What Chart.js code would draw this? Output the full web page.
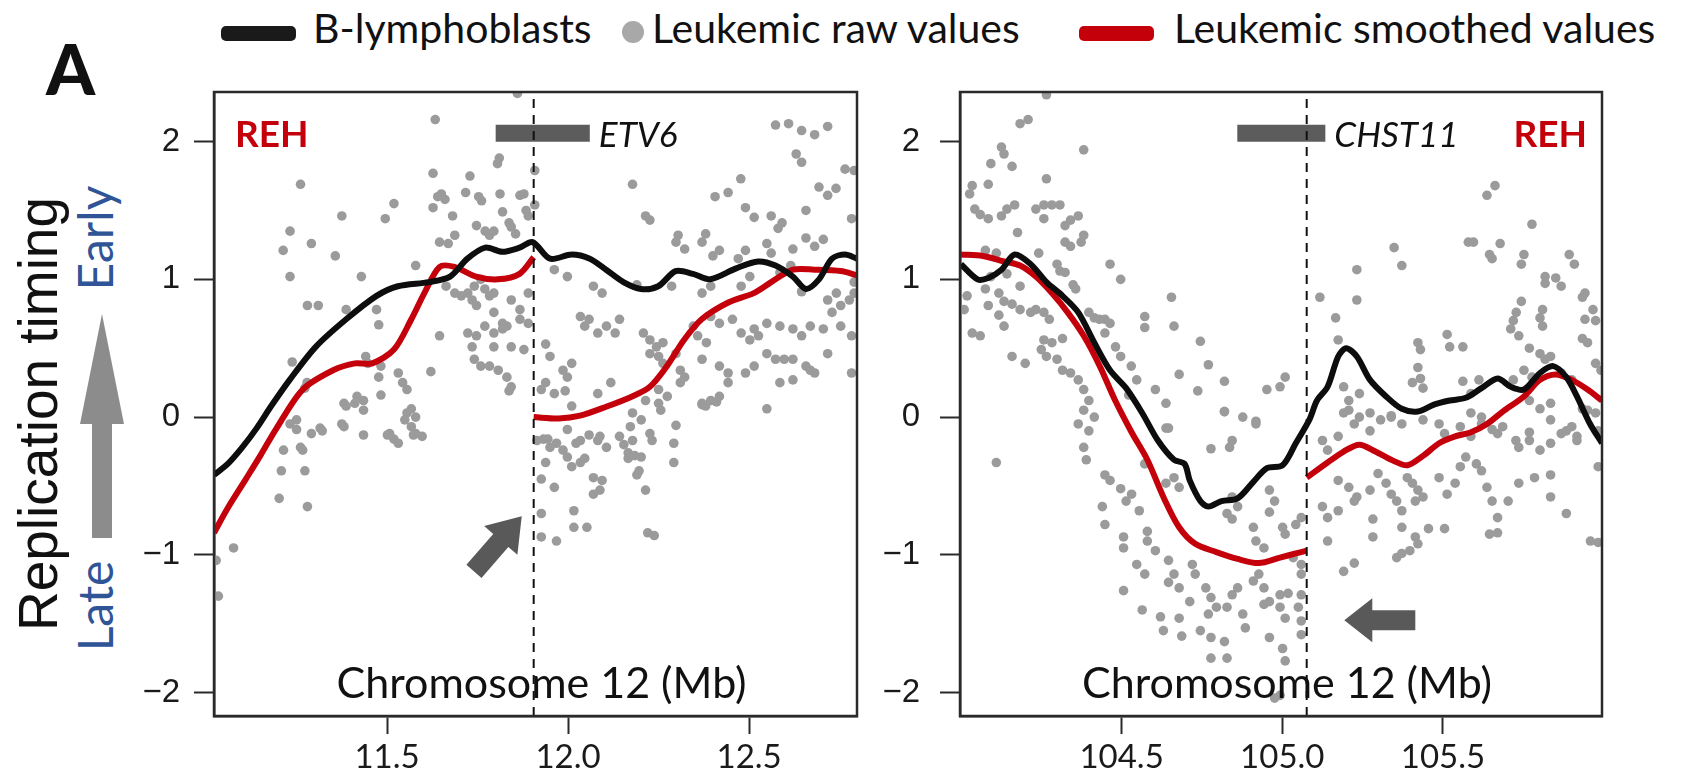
<!DOCTYPE html>
<html>
<head>
<meta charset="utf-8">
<script src="https://cdn.jsdelivr.net/npm/chart.js@4.4.1/dist/chart.umd.min.js"></script>
<style>
  html, body { margin:0; padding:0; background:#fff; }
  body { width:1691px; height:775px; position:relative; overflow:hidden; font-family: Lato, sans-serif; color:#111; }
  .abs { position:absolute; white-space:nowrap; line-height:1; }
  .leg { font-size:41px; top:7px; }
  .sw { position:absolute; top:26px; width:75px; height:15px; border-radius:5px; }
  .rot { position:absolute; width:0; height:0; }
  .rot span { position:absolute; white-space:nowrap; transform: translate(-50%,-50%) rotate(-90deg); }
  #bigArrow { position:absolute; left:80px; top:314px; width:44px; height:224px; background:#8c8c8c;
    clip-path: polygon(22px 0, 44px 110px, 32px 110px, 32px 224px, 12px 224px, 12px 110px, 0 110px); }
  canvas { position:absolute; }
</style>
</head>
<body>

<div class="sw" style="left:221px;background:#1a1a1a"></div>
<span class="abs leg" style="left:313px">B-lymphoblasts</span>
<div style="position:absolute;left:622px;top:21px;width:22px;height:22px;border-radius:50%;background:#a8a8a8"></div>
<span class="abs leg" style="left:652px">Leukemic raw values</span>
<div class="sw" style="left:1079px;background:#c4000b"></div>
<span class="abs leg" style="left:1174px">Leukemic smoothed values</span>

<span class="abs" style="left:46px;top:33px;font-size:70px;font-weight:900">A</span>

<div class="rot" style="left:38px;top:414px"><span style="font-family:'Liberation Sans',Arial;font-size:55px;color:#111">Replication timing</span></div>
<div class="rot" style="left:94px;top:238px"><span style="font-size:48px;color:#2f5597">Early</span></div>
<div class="rot" style="left:94px;top:606px"><span style="font-size:48px;color:#2f5597">Late</span></div>
<div id="bigArrow"></div>

<canvas id="chartL" width="740" height="695" style="left:130px;top:80px"></canvas>
<canvas id="chartR" width="740" height="695" style="left:880px;top:80px"></canvas>

<script>
// axis setup
const yRange = [-2.17, 2.36];
const yTicks = [-2, -1, 0, 1, 2];
const xRangeL = [11.022, 12.798];
const xTicksL = [11.5, 12.0, 12.5];
const xRangeR = [103.997, 105.995];
const xTicksR = [104.5, 105.0, 105.5];

// genes: bar start/end (Mb), breakpoint marker
const geneL = { name:'ETV6', start:11.80, end:12.06, mark:11.905 };
const geneR = { name:'CHST11', start:104.86, end:105.134, mark:105.076 };
const geneBarY = 2.06;

// B-lymphoblasts smoothed (black)
const blackL = [[11.022,-0.42],[11.06,-0.34],[11.10,-0.22],[11.14,-0.08],[11.18,0.08],[11.231,0.27],[11.303,0.51],[11.387,0.71],[11.471,0.88],[11.53,0.95],[11.615,0.98],[11.674,1.02],[11.722,1.15],[11.771,1.23],[11.818,1.20],[11.866,1.23],[11.902,1.27],[11.95,1.15],[12.01,1.18],[12.06,1.15],[12.105,1.07],[12.153,0.98],[12.201,0.93],[12.249,0.95],[12.297,1.06],[12.345,1.04],[12.392,1.00],[12.464,1.08],[12.525,1.13],[12.573,1.10],[12.621,1.02],[12.657,0.93],[12.693,1.00],[12.729,1.15],[12.765,1.18],[12.798,1.15]];
const blackR = [[104.0,1.11],[104.052,1.00],[104.085,1.01],[104.126,1.07],[104.167,1.18],[104.217,1.11],[104.266,0.98],[104.316,0.88],[104.365,0.76],[104.415,0.54],[104.464,0.34],[104.514,0.21],[104.564,0.03],[104.613,-0.17],[104.663,-0.31],[104.696,-0.34],[104.712,-0.46],[104.745,-0.61],[104.77,-0.65],[104.811,-0.61],[104.861,-0.59],[104.91,-0.47],[104.952,-0.37],[105.001,-0.35],[105.042,-0.19],[105.084,-0.02],[105.108,0.12],[105.141,0.22],[105.174,0.44],[105.199,0.50],[105.232,0.44],[105.273,0.27],[105.323,0.15],[105.372,0.06],[105.422,0.04],[105.472,0.09],[105.521,0.12],[105.571,0.14],[105.62,0.21],[105.67,0.28],[105.711,0.22],[105.752,0.20],[105.802,0.32],[105.843,0.37],[105.884,0.29],[105.917,0.15],[105.958,-0.05],[105.995,-0.19]];

// leukemic smoothed (red), split at the breakpoint
const redL1 = [[11.022,-0.84],[11.06,-0.66],[11.11,-0.45],[11.15,-0.28],[11.195,-0.08],[11.267,0.20],[11.351,0.34],[11.411,0.39],[11.459,0.39],[11.519,0.49],[11.567,0.71],[11.603,0.90],[11.645,1.09],[11.686,1.09],[11.746,1.02],[11.806,1.00],[11.866,1.04],[11.905,1.16]];
const redL2 = [[11.905,0.0],[11.974,-0.01],[12.033,0.01],[12.105,0.075],[12.177,0.15],[12.226,0.22],[12.273,0.37],[12.32,0.56],[12.369,0.71],[12.441,0.83],[12.513,0.90],[12.561,0.98],[12.621,1.07],[12.681,1.07],[12.753,1.06],[12.798,1.03]];
const redR1 = [[104.0,1.18],[104.068,1.17],[104.134,1.13],[104.184,1.10],[104.233,1.02],[104.283,0.90],[104.332,0.76],[104.382,0.59],[104.432,0.37],[104.48,0.12],[104.531,-0.11],[104.58,-0.31],[104.63,-0.58],[104.679,-0.80],[104.729,-0.92],[104.795,-0.98],[104.861,-1.03],[104.927,-1.06],[104.993,-1.02],[105.042,-0.99],[105.076,-0.97]];
const redR2 = [[105.076,-0.44],[105.141,-0.33],[105.191,-0.25],[105.24,-0.20],[105.29,-0.25],[105.339,-0.31],[105.389,-0.35],[105.439,-0.28],[105.488,-0.19],[105.538,-0.14],[105.587,-0.11],[105.637,-0.05],[105.686,0.04],[105.752,0.15],[105.802,0.27],[105.851,0.31],[105.901,0.27],[105.95,0.20],[105.995,0.12]];

// leukemic raw values (grey dots)
const rawL = [[11.86,2.35],[11.633,2.16],[12.573,2.12],[12.609,2.13],[12.645,2.08],[12.681,2.05],[12.717,2.11],
[11.81,1.88],[11.805,1.84],[11.908,1.79],[12.63,1.91],[12.645,1.85],[12.79,1.79],[12.765,1.80],[12.477,1.73],[12.178,1.69],[12.74,1.66],[11.261,1.69],[11.627,1.77],[11.729,1.75],
[11.65,1.62],[11.64,1.60],[11.66,1.58],[11.717,1.63],[11.753,1.60],[11.761,1.57],[11.812,1.62],[11.867,1.61],[11.878,1.62],[11.908,1.54],[11.884,1.50],[11.89,1.46],[11.519,1.55],[11.375,1.46],[11.495,1.44],[11.627,1.52],[11.681,1.46],
[11.747,1.39],[11.771,1.35],[11.783,1.32],[11.795,1.35],[11.819,1.49],[11.837,1.41],[11.843,1.38],[11.855,1.33],[11.232,1.35],[11.291,1.26],[11.213,1.21],[11.357,1.17],[11.645,1.27],[11.669,1.26],[11.687,1.32],[11.579,1.10],[11.232,1.02],[11.429,1.02],
[12.214,1.46],[12.226,1.43],[12.304,1.32],[12.298,1.27],[12.322,1.22],[12.38,1.33],[12.406,1.60],[12.442,1.63],[12.49,1.52],[12.514,1.45],[12.561,1.46],[12.591,1.41],[12.58,1.37],[12.657,1.50],[12.717,1.61],[12.693,1.67],[12.783,1.44],
[12.37,1.27],[12.418,1.21],[12.4,1.17],[12.49,1.21],[12.47,1.15],[12.549,1.26],[12.561,1.19],[12.621,1.22],[12.657,1.30],[12.705,1.29],[12.681,1.24],[12.615,1.10],[12.585,1.05],
[11.962,1.07],[11.998,1.02],[12.07,0.95],[12.094,0.90],[12.19,0.96],[12.286,0.95],[12.37,0.90],[12.394,0.95],[12.502,1.02],[12.478,0.95],[12.79,0.98],[12.79,0.90],[12.741,0.90],[12.717,0.85],[12.645,0.91],
[11.663,0.95],[11.687,0.90],[11.705,0.88],[11.723,0.90],[11.741,0.95],[11.759,1.00],[11.77,0.93],[11.783,0.88],[11.795,0.90],[11.735,0.85],[11.747,0.81],[11.843,0.85],[11.867,0.78],[11.89,0.90],
[11.28,0.81],[11.31,0.81],[11.387,0.78],[11.471,0.78],[11.795,0.76],[11.819,0.68],[11.831,0.66],[11.867,0.71],[11.89,0.68],[11.723,0.61],[11.747,0.59],[11.77,0.66],[11.795,0.61],[11.819,0.64],[11.843,0.51],[11.878,0.49],[11.735,0.51],[11.795,0.51],[11.477,0.67],[11.645,0.59],
[11.741,0.42],[11.759,0.37],[11.783,0.37],[11.807,0.34],[11.831,0.29],[11.843,0.22],[11.837,0.19],[11.621,0.33],[11.531,0.32],[11.483,0.37],[11.477,0.29],[11.238,0.40],[11.441,0.44],[11.447,0.39],[11.543,0.25],[11.555,0.20],[11.381,0.10],[11.417,0.15],[11.435,0.12],[11.411,0.10],[11.483,0.16],[11.279,0.25],[11.273,0.21],[11.567,0.06],[11.555,0.03],[11.579,0.00],
[11.232,-0.05],[11.25,-0.09],[11.214,-0.24],[11.208,-0.39],[11.273,-0.39],[11.315,-0.08],[11.375,-0.05],[11.381,-0.07],[11.435,-0.13],[11.507,-0.12],[11.519,-0.16],[11.531,-0.19],[11.567,-0.07],[11.579,-0.12],[11.597,-0.14],
[11.938,0.53],[11.95,0.44],[11.938,0.25],[11.926,0.20],[11.986,0.34],[12.01,0.39],[11.998,0.29],[12.034,0.73],[12.058,0.71],[12.046,0.66],[12.106,0.66],[12.13,0.61],[12.082,0.61],[12.142,0.71],[11.962,0.17],[11.992,0.19],[12.01,0.08],[12.082,0.17],[12.118,0.25],
[12.208,0.61],[12.226,0.56],[12.244,0.51],[12.262,0.54],[12.226,0.46],[12.25,0.44],[12.262,0.39],[12.31,0.34],[12.322,0.29],[12.31,0.25],[12.298,0.46],[12.214,0.12],[12.178,0.03],[12.25,0.20],[12.274,0.15],
[12.346,0.66],[12.358,0.59],[12.382,0.54],[12.394,0.73],[12.418,0.68],[12.454,0.71],[12.478,0.61],[12.502,0.56],[12.514,0.64],[12.526,0.59],[12.549,0.68],[12.585,0.66],[12.621,0.64],[12.645,0.59],[12.669,0.66],[12.705,0.64],[12.753,0.66],[12.783,0.59],
[12.37,0.42],[12.418,0.37],[12.442,0.32],[12.49,0.32],[12.514,0.37],[12.549,0.46],[12.573,0.42],[12.597,0.42],[12.621,0.42],[12.657,0.37],[12.681,0.32],[12.669,0.34],[12.717,0.46],[12.783,0.32],[12.585,0.25],[12.621,0.27],[12.442,0.25],[12.37,0.10],[12.394,0.12],[12.418,0.15],[12.549,0.06],[12.753,0.81],[12.729,0.76],[12.777,0.85],
[11.25,-0.02],[11.261,-0.22],[11.267,-0.24],[11.291,-0.12],[11.321,-0.10],[11.387,0.08],[11.435,0.05],[11.501,-0.13],[11.549,-0.02],[11.573,-0.13],[11.202,-0.59],[11.28,-0.65],[11.076,-0.95],[11.028,-1.04],[11.034,-1.30],
[11.914,-0.17],[11.932,-0.16],[11.95,-0.22],[11.968,-0.19],[11.986,-0.24],[11.998,-0.29],[12.022,-0.19],[12.058,-0.13],[12.088,-0.14],[11.938,-0.33],[11.926,-0.45],[11.962,-0.51],[12.01,-0.36],[12.034,-0.33],[12.046,-0.30],[12.07,-0.44],[12.094,-0.46],[12.07,-0.56],[12.088,-0.53],[11.926,-0.70],[12.016,-0.68],[11.926,-0.87],[11.968,-0.90],[12.016,-0.80],[12.052,-0.80],
[12.166,-0.30],[12.184,-0.28],[12.202,-0.29],[12.196,-0.39],[12.19,-0.42],[12.172,-0.07],[12.202,-0.02],[12.226,-0.12],[12.232,-0.17],[12.214,-0.53],[12.25,0.10],[12.256,0.05],[12.298,-0.06],[12.292,-0.19],[12.292,-0.33],[12.22,-0.84],[12.238,-0.86],[12.37,0.09],[12.38,0.08],[12.41,0.11],[12.142,-0.14],[12.154,-0.20],
[11.944,-0.16],[11.998,-0.09],[12.034,-0.17],[12.082,-0.17],[12.106,-0.22],[12.166,-0.26],[12.178,-0.17]];

const rawR = [[104.266,2.34],[104.184,2.13],[104.209,2.16],[104.382,1.94],[104.126,1.96],[104.134,1.91],[104.093,1.84],[104.159,1.82],
[104.035,1.68],[104.027,1.62],[104.085,1.69],[104.266,1.73],[104.043,1.51],[104.06,1.47],[104.085,1.44],[104.126,1.46],[104.143,1.51],[104.167,1.54],
[104.233,1.51],[104.258,1.54],[104.283,1.54],[104.308,1.54],[104.258,1.44],[104.324,1.39],[104.341,1.43],[104.365,1.46],[104.382,1.32],[104.374,1.27],[104.324,1.27],[104.341,1.24],
[104.176,1.34],[104.076,1.21],[104.11,1.19],[104.242,1.19],[104.299,1.11],[104.308,1.06],[104.324,1.05],[104.093,1.02],[104.143,1.04],[104.184,0.95],[104.076,0.93],[104.118,0.90],
[104.019,0.88],[104.01,0.78],[104.085,0.81],[104.134,0.84],[104.159,0.82],[104.184,0.78],[104.217,0.76],[104.233,0.78],[104.258,0.76],[104.275,0.71],[104.118,0.74],[104.134,0.66],[104.035,0.61],[104.06,0.59],
[104.357,0.93],[104.349,0.96],[104.464,1.11],[104.497,1.00],[104.398,0.76],[104.415,0.72],[104.448,0.71],[104.464,0.68],[104.572,0.73],[104.572,0.65],[104.655,0.87],[104.663,0.66],
[104.258,0.56],[104.283,0.54],[104.316,0.57],[104.25,0.49],[104.266,0.44],[104.299,0.42],[104.159,0.44],[104.2,0.39],[104.316,0.34],[104.341,0.32],[104.365,0.27],
[104.382,0.20],[104.398,0.12],[104.382,0.05],[104.415,0.00],[104.431,0.71],[104.448,0.61],[104.481,0.51],[104.497,0.44],[104.53,0.37],[104.547,0.27],[104.522,0.16],
[104.605,0.20],[104.638,0.10],[104.679,0.31],[104.737,0.19],[104.77,0.38],[104.745,0.55],[104.82,0.26],[104.82,0.04],[104.638,-0.08],[104.877,0.00],[104.918,-0.03],
[104.952,0.20],[104.993,0.22],[105.009,0.29],[104.39,-0.31],[104.382,-0.22],[104.11,-0.33],
[105.117,0.87],[105.232,0.85],[105.232,1.07],[105.166,0.72],[105.174,0.56],[105.348,1.23],[105.372,1.10],[105.579,1.27],[105.595,1.27],[105.645,1.18],[105.653,1.15],[105.678,1.26],
[105.637,1.61],[105.662,1.68],[105.777,1.40],[105.752,1.18],[105.744,1.11],[105.893,1.18],[105.909,1.11],[105.818,1.02],[105.851,1.01],[105.818,0.97],[105.868,0.95],[105.942,0.90],[105.934,0.87],
[105.744,0.84],[105.728,0.76],[105.719,0.70],[105.711,0.64],[105.81,0.78],[105.802,0.72],[105.81,0.66],[105.967,0.78],[105.975,0.70],[105.942,0.71],[105.934,0.57],[105.95,0.54],[105.975,0.39],[105.992,0.34],
[105.513,0.60],[105.562,0.51],[105.521,0.51],[105.422,0.54],[105.43,0.49],[105.422,0.36],[105.43,0.28],[105.405,0.25],[105.438,0.21],[105.562,0.26],[105.587,0.17],[105.612,0.27],
[105.736,0.59],[105.769,0.50],[105.802,0.46],[105.818,0.42],[105.835,0.44],[105.719,0.27],[105.752,0.34],[105.777,0.29],[105.868,0.32],[105.901,0.27],[105.769,0.12],[105.802,0.06],[105.835,0.10],[105.934,0.06],[105.975,0.03],
[105.191,0.22],[105.207,0.12],[105.24,0.17],[105.191,0.03],[105.224,-0.05],[105.273,0.03],[105.306,-0.02],[105.339,0.00],[105.372,-0.05],[105.438,-0.02],
[105.488,-0.05],[105.505,-0.12],[105.554,-0.07],[105.587,-0.14],[105.62,0.00],[105.653,-0.09],[105.686,-0.07],[105.727,-0.17],[105.769,-0.11],[105.835,-0.02],[105.868,-0.12],[105.901,-0.07],[105.917,-0.17],
[105.125,-0.17],[105.174,-0.14],[105.141,-0.24],
[104.365,-0.05],[104.398,-0.10],[104.448,-0.42],[104.464,-0.46],[104.497,-0.52],[104.44,-0.65],[104.448,-0.78],[104.514,-0.61],[104.531,-0.56],[104.555,-0.68],[104.506,-0.87],[104.506,-0.95],
[104.58,-0.83],[104.58,-0.90],[104.605,-0.97],[104.547,-1.07],[104.572,-1.14],[104.506,-1.26],[104.646,-1.04],[104.663,-1.14],[104.646,-1.20],[104.679,-1.24],[104.564,-1.40],
[104.621,-1.45],[104.63,-1.55],[104.679,-1.46],[104.687,-1.59],[104.712,-1.34],[104.729,-1.14],[104.72,-1.07],[104.762,-1.24],[104.778,-1.31],[104.795,-1.38],[104.77,-1.43],
[104.745,-1.55],[104.778,-1.60],[104.82,-1.63],[104.778,-1.75],[104.828,-1.75],[104.828,-1.38],[104.844,-1.29],[104.861,-1.24],[104.877,-1.43],[104.885,-1.53],
[104.91,-0.80],[104.918,-0.90],[104.943,-0.95],[104.91,-1.19],[104.927,-1.14],[104.943,-1.24],[104.943,-1.36],[104.96,-1.34],[104.993,-1.38],[105.009,-1.46],[104.993,-1.29],[105.018,-1.28],
[104.96,-1.60],[105.001,-1.68],[105.009,-1.77],[104.993,-2.02],[104.976,-2.04],[105.059,-1.29],[105.05,-1.38],[105.059,-1.48],[105.059,-1.58],[105.034,-1.02],[105.059,-1.07],[105.059,-1.14],
[105.001,-0.80],[105.009,-0.85],[105.042,-0.78],[105.059,-0.73],[104.96,-0.53],[104.976,-0.61],[104.96,-0.69],[104.844,-0.58],[104.861,-0.65],[104.828,-0.70],[104.844,-0.74],
[104.778,-0.23],[104.836,-0.22],[104.844,-0.17],[104.918,-0.05],[104.82,0.04],[104.646,-0.08],[104.663,-0.44],[104.679,-0.51],[104.638,-0.48],[104.572,-0.34],
[105.141,-0.90],[105.191,-1.12],[105.224,-1.06],[105.125,-0.65],[105.141,-0.73],[105.174,-0.68],[105.174,-0.46],[105.207,-0.51],[105.232,-0.58],[105.224,-0.61],
[105.273,-0.53],[105.298,-0.41],[105.323,-0.48],[105.339,-0.56],[105.356,-0.61],[105.372,-0.68],[105.389,-0.44],[105.405,-0.48],[105.422,-0.53],[105.438,-0.58],[105.414,-0.61],
[105.282,-0.74],[105.282,-0.87],[105.372,-0.80],[105.414,-0.87],[105.422,-0.92],[105.455,-0.81],[105.505,-0.81],[105.356,-1.02],[105.372,-0.99],[105.397,-0.97],
[105.488,-0.44],[105.513,-0.56],[105.538,-0.48],[105.554,-0.36],[105.571,-0.29],[105.604,-0.34],[105.62,-0.39],[105.637,-0.51],[105.653,-0.61],[105.67,-0.73],[105.645,-0.85],[105.67,-0.84],
[105.703,-0.61],[105.736,-0.48],[105.785,-0.44],[105.835,-0.42],[105.884,-0.70],[105.835,-0.58],[105.959,-0.90],[105.983,-0.91],[105.95,0.05],[105.983,-0.10],[105.983,-0.36],
[105.736,-0.22],[105.769,-0.17],[105.802,-0.24],[105.835,-0.19],[105.884,-0.10],[105.917,-0.14],[105.207,0.05],[105.24,0.00],[105.273,-0.10],[105.339,0.01],[105.587,0.03],[105.62,-0.05],[105.67,-0.12]];

// arrows marking the breakpoints (data coords: tail -> tip)
const arrowL = { from:[11.74,-1.12], to:[11.872,-0.72] };
const arrowR = { from:[105.414,-1.474], to:[105.193,-1.474] };

function pts(a) { return a.map(p => ({x:p[0], y:p[1]})); }

function drawArrow(ctx, x1, y1, x2, y2, shaft, headW, headL) {
  const len = Math.hypot(x2-x1, y2-y1);
  const ang = Math.atan2(y2-y1, x2-x1);
  ctx.save();
  ctx.translate(x1, y1);
  ctx.rotate(ang);
  ctx.beginPath();
  ctx.moveTo(0, -shaft/2);
  ctx.lineTo(len-headL, -shaft/2);
  ctx.lineTo(len-headL, -headW/2);
  ctx.lineTo(len, 0);
  ctx.lineTo(len-headL, headW/2);
  ctx.lineTo(len-headL, shaft/2);
  ctx.lineTo(0, shaft/2);
  ctx.closePath();
  ctx.fillStyle = '#595959';
  ctx.fill();
  ctx.restore();
}

const panelDecor = {
  id: 'panelDecor',
  afterDatasetsDraw(chart, args, o) {
    const {ctx, chartArea:a, scales:{x, y}} = chart;
    ctx.save();
    drawArrow(ctx, x.getPixelForValue(o.arrow.from[0]), y.getPixelForValue(o.arrow.from[1]),
              x.getPixelForValue(o.arrow.to[0]), y.getPixelForValue(o.arrow.to[1]), o.shaft, o.headW, o.headL);

    ctx.textBaseline = 'alphabetic';
    ctx.fillStyle = '#c4000b';
    ctx.font = 'bold 37px Lato';
    if (o.rehRight) { ctx.textAlign = 'right'; ctx.fillText('REH', a.right - 15, a.top + 55); }
    else { ctx.textAlign = 'left'; ctx.fillText('REH', a.left + 21, a.top + 55); }

    ctx.fillStyle = '#111';
    ctx.textAlign = 'left';
    ctx.font = 'italic 35px Lato';
    ctx.fillText(o.gene.name, x.getPixelForValue(o.gene.end) + 9, a.top + 55);

    ctx.textAlign = 'center';
    ctx.font = '43px Lato';
    ctx.fillText('Chromosome 12 (Mb)', (a.left + a.right)/2 + 6, a.bottom - 18);

    ctx.strokeStyle = '#2a2a2a';
    ctx.lineWidth = 2.5;
    ctx.strokeRect(a.left, a.top, a.width, a.height);
    ctx.restore();
  }
};

function makeChart(id, xr, xt, gene, raw, black, red1, red2, arrow, yAxisW, yPad, rehRight, padRight, headL) {
  const fmtY = v => String(v).replace('-', '\u2212');
  return new Chart(document.getElementById(id), {
    type: 'line',
    data: {
      datasets: [
        { data: pts(raw), showLine:false, pointRadius:4.8, pointBackgroundColor:'#9b9b9b', pointBorderWidth:0, order:5 },
        { data: pts(red1), borderColor:'#c4000b', borderWidth:6, pointRadius:0, tension:0.3, order:2 },
        { data: pts(red2), borderColor:'#c4000b', borderWidth:6, pointRadius:0, tension:0.3, order:2 },
        { data: pts(black), borderColor:'#0d0d0d', borderWidth:6, pointRadius:0, tension:0.3, order:1 },
        { data: [{x:gene.mark, y:yRange[0]}, {x:gene.mark, y:yRange[1]}], borderColor:'#111', borderWidth:2,
          borderDash:[9,7], pointRadius:0, order:0 },
        { data: [{x:gene.start, y:geneBarY}, {x:gene.end, y:geneBarY}], borderColor:'#5c5c5c', borderWidth:17,
          borderCapStyle:'butt', pointRadius:0, order:0 }
      ]
    },
    options: {
      responsive: false,
      animation: false,
      events: [],
      layout: { padding: { top:12, right:padRight, bottom:0, left:0 } },
      scales: {
        x: {
          type: 'linear', min: xr[0], max: xr[1],
          afterBuildTicks: s => { s.ticks = xt.map(v => ({value:v})); },
          afterFit: s => { s.height = 59; s.paddingLeft = 0; s.paddingRight = 0; },
          ticks: { callback: v => v.toFixed(1), font:{family:'Lato', size:33}, color:'#1a1a1a', padding:4, maxRotation:0, autoSkip:false },
          grid: { drawOnChartArea:false, drawTicks:true, tickLength:18, tickColor:'#2a2a2a', tickWidth:2 },
          border: { display:true, color:'#2a2a2a', width:2.5 }
        },
        y: {
          min: yRange[0], max: yRange[1],
          afterBuildTicks: s => { s.ticks = yTicks.map(v => ({value:v})); },
          afterFit: s => { s.width = yAxisW; s.paddingTop = 0; s.paddingBottom = 0; },
          ticks: { callback: fmtY, font:{family:"'Liberation Sans', Arial", size:33}, color:'#1a1a1a', padding:yPad },
          grid: { drawOnChartArea:false, drawTicks:true, tickLength:20, tickColor:'#2a2a2a', tickWidth:2 },
          border: { display:true, color:'#2a2a2a', width:2.5 }
        }
      },
      plugins: {
        legend: { display:false },
        tooltip: { enabled:false },
        panelDecor: { arrow, gene, rehRight, shaft:20, headW:44, headL }
      }
    },
    plugins: [panelDecor]
  });
}

makeChart('chartL', xRangeL, xTicksL, geneL, rawL, blackL, redL1, redL2, arrowL, 84, 14, false, 13, 32);
makeChart('chartR', xRangeR, xTicksR, geneR, rawR, blackR, redR1, redR2, arrowR, 80, 20, true, 18, 28);
</script>
</body>
</html>
